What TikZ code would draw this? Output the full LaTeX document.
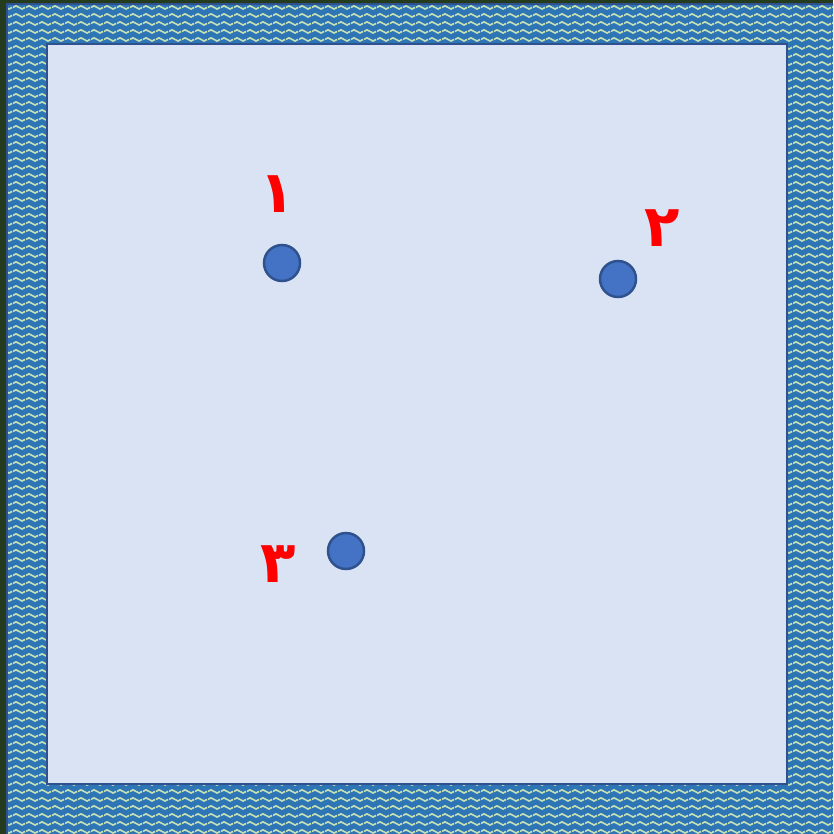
\documentclass[tikz,border=0pt]{standalone}
\usepackage{fontspec}
\newfontfamily\arabicfont[Script=Arabic]{DejaVu Sans}
\TeXXeTstate=1
\usetikzlibrary{patterns}
\definecolor{edgeG}{HTML}{243B1E}
\definecolor{frameF}{HTML}{2E75B6}
\definecolor{frameD}{HTML}{2F528F}
\definecolor{waveC}{HTML}{C5E0B4}
\definecolor{roomF}{HTML}{DAE3F3}
\definecolor{dotF}{HTML}{4472C4}
\definecolor{dotD}{HTML}{2F528F}
\pgfdeclarepatternformonly{waves}{\pgfpointorigin}{\pgfqpoint{13pt}{8pt}}{\pgfqpoint{13pt}{8pt}}{%
  \pgfsetlinewidth{1.8pt}
  \pgfpathmoveto{\pgfqpoint{0pt}{4pt}}
  \pgfpathsine{\pgfqpoint{3.25pt}{1.8pt}}
  \pgfpathcosine{\pgfqpoint{3.25pt}{-1.8pt}}
  \pgfpathsine{\pgfqpoint{3.25pt}{-1.8pt}}
  \pgfpathcosine{\pgfqpoint{3.25pt}{1.8pt}}
  \pgfusepath{stroke}}
\tikzset{
  dot/.style={circle, draw=dotD, fill=dotF, line width=2.5pt, minimum size=36pt, inner sep=0pt},
  num/.style={text=red, font=\arabicfont\bfseries\fontsize{58}{60}\selectfont, inner sep=0pt, anchor=base},
}
\newcommand\arnum[1]{\beginR #1\endR}

\begin{document}
\begin{tikzpicture}[x=1pt,y=-1pt]
\useasboundingbox (0,0) rectangle (833,834);
\clip (0,0) rectangle (833,834);
\fill[edgeG] (0,0) rectangle (833,834);
% patterned frame
\fill[frameF] (7,4) rectangle (840,840);
\fill[pattern=waves, pattern color=waveC] (7,4) rectangle (840,840);
\draw[frameD, line width=2pt] (7,4) rectangle (840,840);
% room
\draw[fill=roomF, draw=frameD, line width=2.5pt] (47,44) rectangle (787,784);
% points
\node[dot] (d1) at (282,263) {};
\node[dot] (d2) at (618,279) {};
\node[dot] (d3) at (346,551) {};
\node[num] (n1) at (277,213) {\arnum{١}};
\node[num] (n2) at (662,246) {\arnum{٢}};
\node[num] (n3) at (278,582) {\arnum{٣}};
\end{tikzpicture}
\end{document}
